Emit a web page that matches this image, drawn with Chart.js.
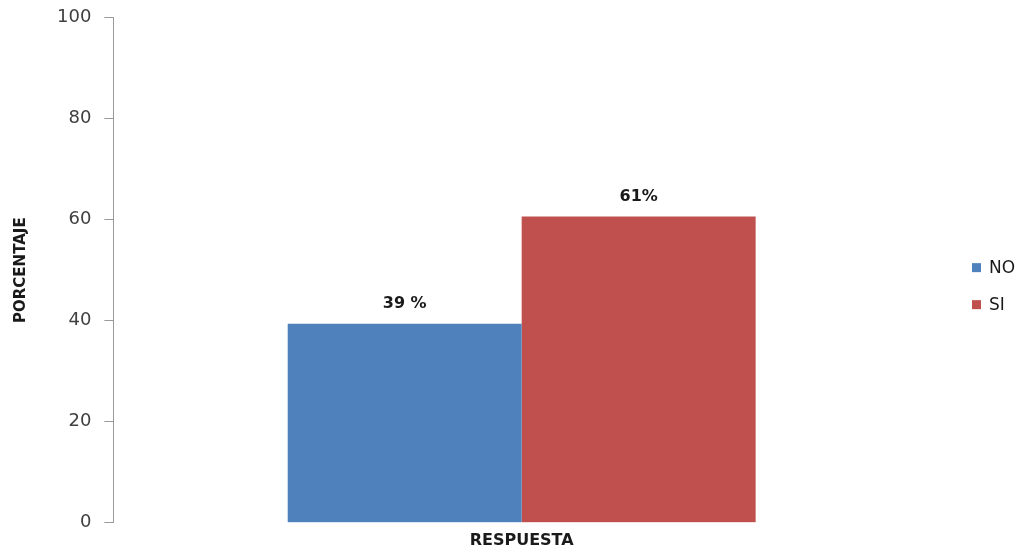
<!DOCTYPE html>
<html>
<head>
<meta charset="utf-8">
<script src="https://cdn.jsdelivr.net/npm/chart.js@4/dist/chart.umd.min.js"></script>
<style>
  html, body { margin: 0; padding: 0; background: #fff; }
  #wrap { width: 1026px; height: 552px; }
</style>
</head>
<body>
<div id="wrap"><canvas id="chart_respuesta"></canvas></div>
<script>
//DATA
const categories = ['RESPUESTA'];
const seriesNames = ['NO', 'SI'];
const seriesValues = [39.4, 60.6];
const valueLabels = ['39 %', '61%'];
const yTicks = [0, 20, 40, 60, 80, 100];
const seriesColors = ['rgb(79, 129, 189)', 'rgb(192, 80, 77)'];

// labels above each bar
const barLabels = {
    id: 'barLabels',
    afterDatasetsDraw(chart) {
        const ctx = chart.ctx;
        ctx.save();
        ctx.font = 'bold 16px "DejaVu Sans"';
        ctx.fillStyle = '#1a1a1a';
        ctx.textAlign = 'center';
        ctx.textBaseline = 'bottom';
        chart.data.datasets.forEach((ds, i) => {
            const bar = chart.getDatasetMeta(i).data[0];
            ctx.fillText(valueLabels[i], bar.x, bar.y - 12);
        });
        ctx.restore();
    }
};

// legend on the right, drawn in the space kept by layout padding
const sideLegend = {
    id: 'sideLegend',
    afterDraw(chart) {
        const ctx = chart.ctx;
        const area = chart.chartArea;
        const x = area.right + 42;
        const mid = (area.top + area.bottom) / 2 + 16;
        ctx.save();
        ctx.font = '17px "DejaVu Sans"';
        ctx.textAlign = 'left';
        ctx.textBaseline = 'middle';
        chart.data.datasets.forEach((ds, i) => {
            const y = mid + (i - 0.5) * 37;
            ctx.fillStyle = ds.backgroundColor;
            ctx.fillRect(x, y - 4.5, 9, 9);
            ctx.fillStyle = '#1a1a1a';
            ctx.fillText(ds.label, x + 17, y + 1);
        });
        ctx.restore();
    }
};

//CONFIG
const config = {
    type: 'bar',
    data: {
        labels: categories,
        datasets: seriesNames.map((name, i) => ({
            label: name,
            data: [seriesValues[i]],
            backgroundColor: seriesColors[i],
            borderWidth: 0,
            barPercentage: 1,
            categoryPercentage: 0.573
        }))
    },
    options: {
        responsive: true,
        maintainAspectRatio: false,
        animation: false,
        layout: { padding: { top: 12, left: 12, right: 96, bottom: 2 } },
        plugins: {
            legend: { display: false },
            tooltip: { enabled: false }
        },
        scales: {
            x: {
                grid: { display: false },
                border: { display: false },
                ticks: {
                    color: '#1a1a1a',
                    padding: 0,
                    font: { family: 'DejaVu Sans', size: 16, weight: 'bold' }
                }
            },
            y: {
                min: 0,
                max: 100,
                afterBuildTicks(axis) {
                    axis.ticks = yTicks.map(v => ({ value: v }));
                },
                grid: {
                    drawOnChartArea: false,
                    drawTicks: true,
                    tickLength: 9,
                    color: '#9a9a9a'
                },
                border: { display: true, color: '#9a9a9a', width: 1 },
                ticks: {
                    color: '#404040',
                    padding: 13,
                    font: { family: 'DejaVu Sans', size: 18, lineHeight: 0.5 }
                },
                title: {
                    display: true,
                    text: 'PORCENTAJE',
                    color: '#1a1a1a',
                    padding: { top: 0, bottom: 14 },
                    font: { family: 'DejaVu Sans', size: 15, weight: 'bold' }
                }
            }
        }
    },
    plugins: [barLabels, sideLegend]
};

//RENDER
const chartRespuesta = new Chart(
    document.getElementById('chart_respuesta'),
    config
);
</script>
</body>
</html>
